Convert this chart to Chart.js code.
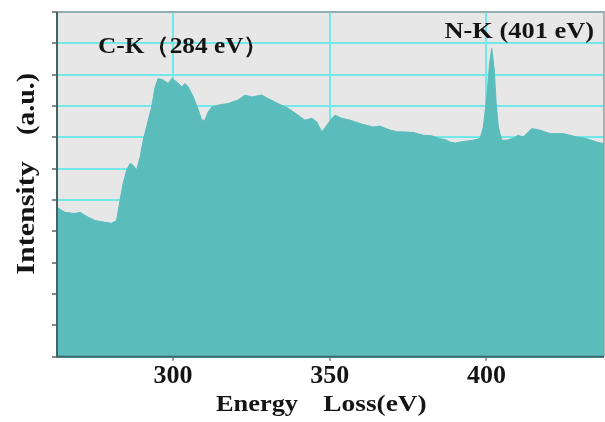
<!DOCTYPE html>
<html>
<head>
<meta charset="utf-8">
<script src="https://cdn.jsdelivr.net/npm/chart.js@4/dist/chart.umd.min.js"></script>
<style>
  html, body { margin: 0; padding: 0; background: #ffffff; }
  #wrap { width: 605px; height: 422px; }
</style>
</head>
<body>
<div id="wrap"><canvas id="eels"></canvas></div>
<script>
// EELS spectrum, values
const energy = [
  263.0, 265.5, 268.7, 270.3, 273.0, 275.1, 278.3, 280.4, 282.0, 283.1,
  284.1, 285.2, 286.3, 287.3, 288.4, 289.5, 290.5, 292.1, 293.2, 294.3,
  295.3, 296.9, 298.5, 299.6, 301.2, 302.8, 303.8, 304.9, 306.5, 308.1,
  309.2, 310.2, 311.2, 312.4, 314.4, 317.6, 320.7, 323.0, 325.1, 328.3,
  330.3, 333.5, 336.7, 339.9, 342.1, 344.3, 345.9, 347.5, 349.1, 350.7,
  351.7, 353.8, 356.5, 359.7, 363.8, 366.0, 369.3, 371.5, 374.6, 377.0,
  379.8, 382.5, 385.2, 386.8, 388.4, 390.0, 391.6, 393.5, 395.8, 398.0,
  399.0, 400.1, 401.0, 401.7, 402.5, 403.1, 403.8, 404.9, 406.5, 408.5,
  410.1, 411.7, 414.5, 417.1, 420.3, 424.5, 428.9, 432.0, 435.2, 437.5
];
const intensity = [
  4.77, 4.61, 4.57, 4.61, 4.45, 4.35, 4.29, 4.26, 4.35, 4.99,
  5.53, 5.95, 6.17, 6.11, 5.95, 6.37, 6.91, 7.55, 7.97, 8.61,
  8.88, 8.83, 8.72, 8.88, 8.77, 8.61, 8.72, 8.61, 8.29, 7.87,
  7.55, 7.55, 7.81, 7.97, 8.03, 8.08, 8.19, 8.35, 8.29, 8.35,
  8.24, 8.08, 7.93, 7.71, 7.55, 7.61, 7.49, 7.17, 7.39, 7.61,
  7.71, 7.61, 7.55, 7.44, 7.33, 7.36, 7.23, 7.18, 7.17, 7.15,
  7.07, 7.05, 6.96, 6.93, 6.85, 6.82, 6.85, 6.88, 6.91, 6.97,
  7.33, 8.29, 9.37, 9.84, 9.15, 8.09, 7.33, 6.91, 6.91, 6.97,
  7.07, 7.01, 7.28, 7.23, 7.12, 7.12, 7.01, 6.96, 6.85, 6.80
];
const xTicks = [300, 350, 400];
const xRange = [263, 437.5];
const yRange = [0, 11];

const serif = '"Liberation Serif", "Times New Roman", serif';
const ink = '#141414';

// the original lettering is a bit wider than Liberation Serif, so stretch it
function wideText(ctx, text, x, y, align, sx) {
  ctx.save();
  ctx.translate(x, y);
  ctx.scale(sx, 1);
  ctx.textAlign = align;
  ctx.fillText(text, 0, 0);
  ctx.restore();
}

// gray background + frame around the plot area, titles and labels
const frame = {
  id: 'frame',
  beforeDraw(chart) {
    const { ctx, chartArea: a } = chart;
    ctx.save();
    ctx.fillStyle = '#e7e7e7';
    ctx.fillRect(a.left, a.top, a.right - a.left, a.bottom - a.top);
    ctx.restore();
  },
  afterDraw(chart) {
    const { ctx, chartArea: a } = chart;
    ctx.save();
    ctx.lineWidth = 1.5;
    ctx.strokeStyle = '#9a9a9a';
    ctx.beginPath();
    ctx.moveTo(a.left, a.top); ctx.lineTo(a.right, a.top); ctx.lineTo(a.right, a.bottom);
    ctx.stroke();
    ctx.lineWidth = 2;
    ctx.strokeStyle = '#3f6464';
    ctx.beginPath();
    ctx.moveTo(a.left, a.top); ctx.lineTo(a.left, a.bottom); ctx.lineTo(a.right, a.bottom);
    ctx.stroke();

    ctx.fillStyle = ink;
    ctx.textBaseline = 'middle';
    ctx.font = 'bold 24px ' + serif;
    wideText(ctx, 'Energy', 257, 405, 'center', 1.1);
    wideText(ctx, 'Loss(eV)', 375, 405, 'center', 1.14);

    ctx.save();
    ctx.translate(28, 0);
    ctx.rotate(-Math.PI / 2);
    ctx.font = 'bold 25px ' + serif;
    wideText(ctx, 'Intensity', -218, 0, 'center', 1.2);
    wideText(ctx, '(a.u.)', -104, 0, 'center', 1.12);
    ctx.restore();

    ctx.font = 'bold 23px ' + serif;
    wideText(ctx, 'C-K（284 eV）', 98, 47, 'left', 1.1);
    ctx.font = 'bold 24px ' + serif;
    wideText(ctx, 'N-K (401 eV)', 594, 32, 'right', 1.1);
    ctx.restore();
  }
};

new Chart(document.getElementById('eels'), {
  type: 'line',
  data: {
    datasets: [{
      data: energy.map((e, i) => ({ x: e, y: intensity[i] })),
      borderColor: '#5bbcbc',
      backgroundColor: '#5bbcbc',
      borderWidth: 1,
      fill: 'origin',
      pointRadius: 0,
      tension: 0
    }]
  },
  options: {
    responsive: true,
    maintainAspectRatio: false,
    animation: false,
    layout: { padding: { left: 52, right: 1, top: 12, bottom: 30 } },
    plugins: { legend: { display: false }, tooltip: { enabled: false } },
    scales: {
      x: {
        type: 'linear',
        min: xRange[0],
        max: xRange[1],
        afterBuildTicks: (scale) => { scale.ticks = xTicks.map(v => ({ value: v })); },
        ticks: { color: ink, font: { family: serif, size: 26, weight: 'bold' }, padding: 0 },
        grid: { color: '#72e8e8', lineWidth: 2, tickLength: 4, tickColor: '#9a9a9a' },
        border: { display: false }
      },
      y: {
        min: yRange[0],
        max: yRange[1],
        ticks: { stepSize: 1, display: false },
        grid: { color: '#72e8e8', lineWidth: 2, tickLength: 5, tickColor: '#8a8a8a' },
        border: { display: false }
      }
    }
  },
  plugins: [frame]
});
</script>
</body>
</html>
